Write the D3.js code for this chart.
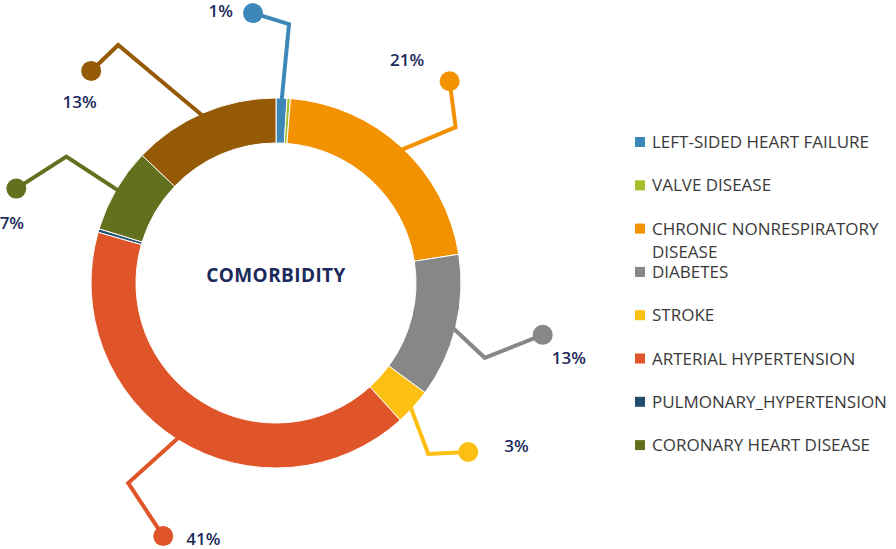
<!DOCTYPE html>
<html>
<head>
<meta charset="utf-8">
<script src="https://cdn.jsdelivr.net/npm/d3@7"></script>
<style>
  html, body { margin: 0; padding: 0; background: #fff; }
  svg { display: block; font-family: "Open Sans", "Noto Sans", sans-serif; }
</style>
</head>
<body>
<div id="chart"></div>
<script>
// Comorbidity shares (percent), clockwise from 12 o'clock
const categories = [
  "LEFT-SIDED HEART FAILURE",
  "VALVE DISEASE",
  "CHRONIC NONRESPIRATORY DISEASE",
  "DIABETES",
  "STROKE",
  "ARTERIAL HYPERTENSION",
  "PULMONARY_HYPERTENSION",
  "CORONARY HEART DISEASE",
  "OTHER"
];
const values = [0.95, 0.3, 21.3, 12.6, 3.2, 41.2, 0.3, 7.4, 12.9];
const pctLabels = ["1%", "", "21%", "13%", "3%", "41%", "", "7%", "13%"];
const colors = ["#3d88b8", "#a3bf2c", "#f39200", "#878787", "#fbc011", "#e05429", "#1f4e6e", "#63701d", "#945a05"];
// legend lists only the first eight categories (as in the original)
const legendCount = 8;

(function() {
  const W = 896, H = 549;
  const cx = 276, cy = 283;
  const outerR = 185, innerR = 140;
  const navy = "#1b2a5a";

  // leader line geometry per slice: elbow and dot offsets from the slice anchor,
  // label offset from the dot
  const leaders = [
    { elbow: [7.5, -74], dot: [-28.5, -85], text: [-20, 4], anchor: "end" },
    null,
    { elbow: [54, -20], dot: [48, -66], text: [-42.5, -15], anchor: "middle" },
    { elbow: [29, 31], dot: [87, 8], text: [9, 29], anchor: "start" },
    { elbow: [15, 47], dot: [55, 45], text: [36, 0], anchor: "start" },
    { elbow: [-50, 43], dot: [-15, 96], text: [23, 9], anchor: "start" },
    null,
    { elbow: [-50, -33], dot: [-100, -1], text: [-4.5, 40], anchor: "middle" },
    { elbow: [-85, -68], dot: [-112, -42], text: [-11.5, 37], anchor: "middle" }
  ];

  const svg = d3.select("#chart").append("svg")
    .attr("width", W)
    .attr("height", H);

  const g = svg.append("g").attr("transform", `translate(${cx},${cy})`);

  const pie = d3.pie().sort(null).value(d => d.value).startAngle(0).endAngle(2 * Math.PI);
  const arcs = pie(categories.map((c, i) => ({ name: c, value: values[i], i })));

  const arc = d3.arc().innerRadius(innerR).outerRadius(outerR);
  const anchorArc = d3.arc().innerRadius(outerR).outerRadius(outerR);

  // Slices
  g.selectAll("path.slice")
    .data(arcs)
    .join("path")
    .attr("class", "slice")
    .attr("d", arc)
    .attr("fill", d => colors[d.data.i])
    .attr("stroke", "#fff")
    .attr("stroke-width", 1);

  // Leader lines + dots + labels
  const lab = g.append("g");
  arcs.forEach(d => {
    const L = leaders[d.data.i];
    if (!L) return;
    const a = anchorArc.centroid(d);
    const col = colors[d.data.i];
    const e = [a[0] + L.elbow[0], a[1] + L.elbow[1]];
    const p = [a[0] + L.dot[0], a[1] + L.dot[1]];
    const start = [a[0] * 0.97, a[1] * 0.97];
    lab.append("path")
      .attr("d", d3.line()([start, e, p]))
      .attr("fill", "none")
      .attr("stroke", col)
      .attr("stroke-width", 4)
      .attr("stroke-linejoin", "miter");
    lab.append("circle")
      .attr("cx", p[0]).attr("cy", p[1]).attr("r", 10)
      .attr("fill", col);
    lab.append("text")
      .attr("x", p[0] + L.text[0])
      .attr("y", p[1] + L.text[1])
      .attr("text-anchor", L.anchor)
      .attr("fill", navy)
      .style("font-size", "17px")
      .style("font-weight", 600)
      .text(pctLabels[d.data.i]);
  });

  // Center title
  g.append("text")
    .attr("x", 0)
    .attr("y", -1)
    .attr("text-anchor", "middle")
    .attr("fill", navy)
    .style("font-size", "19px")
    .style("font-weight", 700)
    .style("letter-spacing", "0.4px")
    .text("COMORBIDITY");

  // Legend
  const legend = svg.append("g").attr("transform", "translate(635,142)");
  const rowGap = 43.3;
  const items = legend.selectAll("g")
    .data(categories.slice(0, legendCount))
    .join("g")
    .attr("transform", (d, i) => `translate(0,${i * rowGap})`);

  items.append("rect")
    .attr("x", 0).attr("y", -5)
    .attr("width", 10).attr("height", 10)
    .attr("fill", (d, i) => colors[i]);

  items.append("text")
    .attr("x", 17)
    .attr("y", 6)
    .attr("fill", "#3a3a3a")
    .style("font-size", "17px")
    .each(function(d) {
      const t = d3.select(this);
      if (d === "CHRONIC NONRESPIRATORY DISEASE") {
        t.append("tspan").attr("x", 17).text("CHRONIC NONRESPIRATORY");
        t.append("tspan").attr("x", 17).attr("dy", 23).text("DISEASE");
      } else {
        t.text(d);
      }
    });
})();
</script>
</body>
</html>
